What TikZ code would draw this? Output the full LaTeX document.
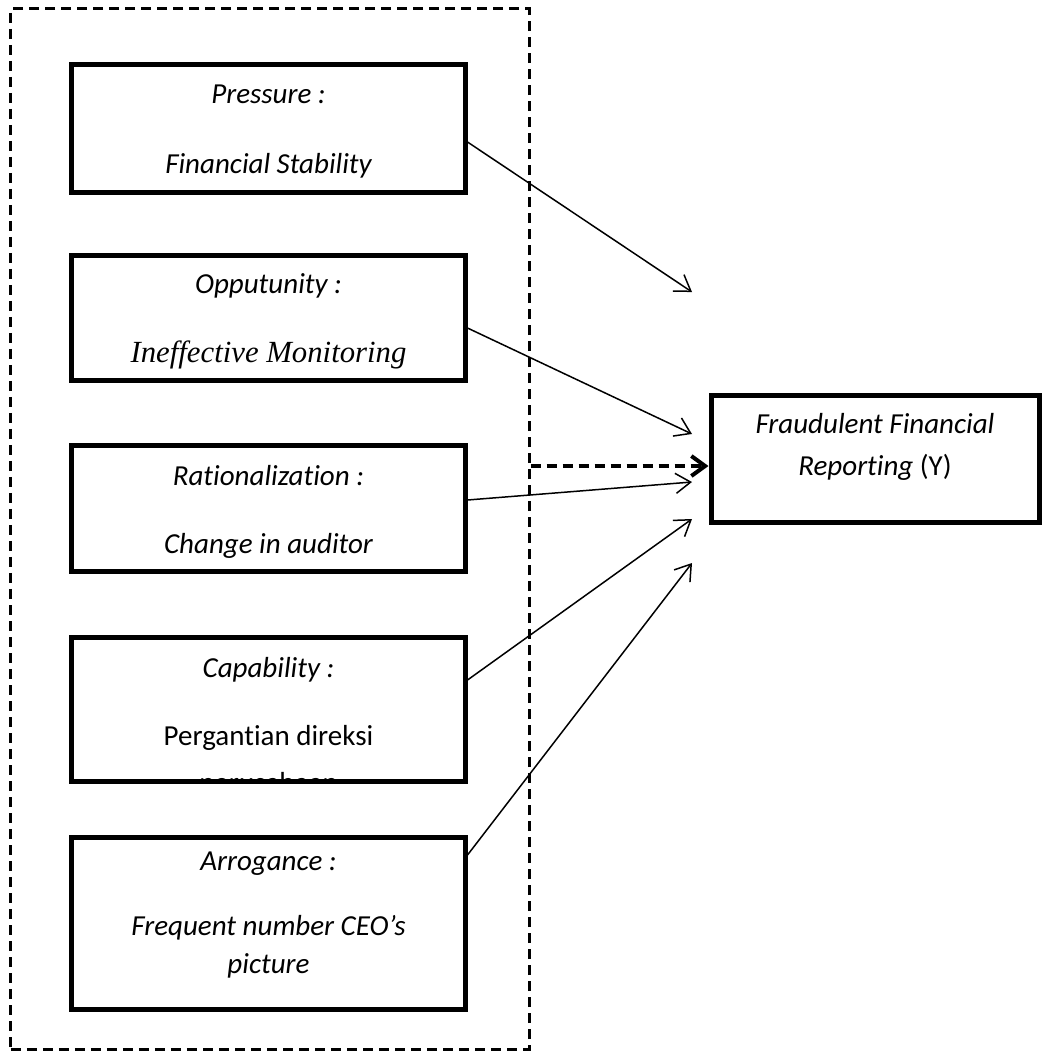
\documentclass[tikz,border=0pt]{standalone}
\usepackage{fontspec}
\setmainfont{Carlito}[Ligatures=NoCommon]
\newfontfamily\serifit{Liberation Serif}
\usetikzlibrary{positioning, arrows.meta}
\tikzstyle{factor} = [
    rectangle, draw, line width=2pt,
    minimum width=157.2pt, inner sep=0pt % all left boxes share the width
]
\tikzstyle{outcome} = [
    rectangle, draw, line width=2pt,
    minimum width=131.2pt, minimum height=50.8pt, inner sep=0pt
]
\tikzstyle{frame} = [
    rectangle, draw, line width=1.2pt, dash pattern=on 4pt off 2.4pt,
    minimum width=207.2pt, minimum height=416pt, inner sep=0pt
]
\tikzstyle{lbl} = [
    anchor=base, inner sep=0pt, font=\fontsize{11.6}{14}\selectfont\itshape
]
\tikzstyle{link} = [
    line width=0.6pt, -{Straight Barb[length=6pt,width=8pt]}
]
\tikzstyle{dlink} = [
    line width=1.6pt, dash pattern=on 4pt off 2.4pt,
    -{Straight Barb[length=5.5pt,width=8pt,line width=1.6pt]}
]

\begin{document}
\begin{tikzpicture}[x=0.4pt, y=-0.4pt]
        \useasboundingbox (0,0) rectangle (1045,1054);

        % Dashed group round the five factors
        \node[frame] (grp) at (270,529) {};

        % Fraud pentagon factors
        \node[factor, minimum height=51.2pt] (fs) at (268.5,128.5) {};
        \node[factor, minimum height=50pt] (im) [below=23.2pt of fs] {};
        \node[factor, minimum height=50.4pt] (ca) [below=24pt of im] {};
        \node[factor, minimum height=57.6pt] (dir) [below=24.4pt of ca] {};
        \node[factor, minimum height=68.8pt] (ceo) [below=20.4pt of dir] {};

        % Dependent variable
        \node[outcome] (ffr) at (875,459) {};

        % Texts of the boxes
        \node[lbl] (fs1) at ([yshift=-16.4pt]fs.north) {Pressure :};
        \node[lbl] (fs2) at ([yshift=-44.4pt]fs.north) {Financial Stability};

        \node[lbl] (im1) at ([yshift=-16pt]im.north) {Opputunity :};
        \node[lbl, font=\fontsize{12.3}{14}\serifit\itshape] (im2)
            at ([yshift=-43.6pt]im.north) {Ineffective Monitoring};

        \node[lbl] (ca1) at ([yshift=-16.8pt]ca.north) {Rationalization :};
        \node[lbl] (ca2) at ([yshift=-44pt]ca.north) {Change in auditor};

        \node[lbl] (dir1) at ([yshift=-16.8pt]dir.north) {Capability :};
        \begin{scope}
            \clip ([yshift=1pt]dir.south west) rectangle (dir.north east); % text runs out of the box
            \node[lbl, font=\fontsize{11.6}{14}\selectfont] (dir2)
                at ([yshift=-44pt]dir.north) {Pergantian direksi};
            \node[lbl, font=\fontsize{11.6}{14}\selectfont] (dir3)
                at ([yshift=-63pt]dir.north) {perusahaan};
        \end{scope}

        \node[lbl] (ceo1) at ([yshift=-14pt]ceo.north) {Arrogance :};
        \node[lbl] (ceo2) at ([yshift=-40pt]ceo.north) {Frequent number CEO’s};
        \node[lbl] (ceo3) at ([yshift=-55.2pt]ceo.north) {picture};

        \node[lbl] (ffr1) at ([yshift=-16pt]ffr.north) {Fraudulent Financial};
        \node[lbl] (ffr2) at ([yshift=-32.8pt]ffr.north) {Reporting \upshape(Y)};

        % Arrow ends left of the outcome box
        \coordinate (t1) at (692,292);
        \coordinate (t2) at (692,434);
        \coordinate (t3) at (692,482);
        \coordinate (t4) at (692,519);
        \coordinate (t5) at (692,563);

        \draw[link] ([yshift=-5.4pt]fs.east) -- (t1);
        \draw[link] ([yshift=-4pt]im.east) -- (t2);
        \draw[link] ([yshift=3.4pt]ca.east) -- (t3);
        \draw[link] ([yshift=11.8pt]dir.east) -- (t4);
        \draw[link] ([yshift=27.4pt]ceo.east) -- (t5);

        % Simultaneous effect
        \draw[dlink] ([yshift=-2.8pt]ffr.west -| grp.east) -- ([yshift=-2.8pt]ffr.west);

    \end{tikzpicture}
\end{document}
